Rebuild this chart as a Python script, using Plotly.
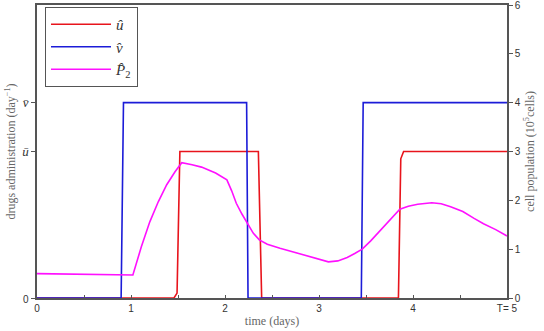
import plotly.graph_objects as go

# ---- data ----
u_t = [0, 1.457, 1.49, 1.52, 2.355, 2.39, 3.845, 3.87, 3.90, 5]
u_val = [0, 0, 0.10, 3, 3, 0, 0, 2.85, 3, 3]

v_t = [0, 0.895, 0.92, 2.23, 2.245, 3.45, 3.47, 5]
v_val = [0, 0, 4, 4, 0, 0, 4, 4]

p_t = [0, 0.5, 1.02, 1.11, 1.20, 1.29, 1.38, 1.47, 1.54, 1.65, 1.75, 1.9, 2.02,
       2.07, 2.12, 2.18, 2.24, 2.30, 2.365, 2.45, 2.585, 2.7, 2.8, 2.95, 3.1,
       3.2, 3.3, 3.38, 3.46, 3.55, 3.65, 3.76, 3.86, 3.95, 4.05, 4.2, 4.3, 4.4,
       4.53, 4.65, 4.75, 4.88, 5.0]
p_val = [0.50, 0.49, 0.47, 1.05, 1.56, 1.97, 2.32, 2.59, 2.77, 2.73, 2.68, 2.56, 2.42,
         2.20, 1.94, 1.72, 1.53, 1.33, 1.19, 1.10, 1.02, 0.96, 0.90, 0.82, 0.74,
         0.76, 0.83, 0.91, 1.00, 1.17, 1.38, 1.60, 1.82, 1.88, 1.92, 1.95, 1.93, 1.87,
         1.77, 1.63, 1.52, 1.40, 1.27]

x_tickvals = [0, 1, 2, 3, 4, 5]
x_ticktext = ["0", "1", "2", "3", "4", "T= 5"]
left_tickvals = [0, 3, 4]
left_ticktext = ['<span style="font-family:Liberation Sans;font-size:10px">0</span>',
                 "<i>ū</i>", "<i>v̄</i>"]
right_tickvals = [0, 1, 2, 3, 4, 5, 6]

AX = "#555555"
TXT = "#333333"
TITLE = "#666666"

fig = go.Figure()
fig.add_trace(go.Scatter(x=u_t, y=u_val, mode="lines", name="<i>û</i>",
                         line=dict(color="#e8141c", width=1.6)))
fig.add_trace(go.Scatter(x=v_t, y=v_val, mode="lines", name="<i>v̂</i>",
                         line=dict(color="#1c1cd8", width=1.6)))
fig.add_trace(go.Scatter(x=p_t, y=p_val, mode="lines", name="<i>P̂</i><sub>2</sub>",
                         line=dict(color="#ff10ff", width=1.6), yaxis="y2"))

fig.update_layout(
    width=544, height=331,
    margin=dict(l=37, r=37, t=5, b=33, autoexpand=False),
    plot_bgcolor="white", paper_bgcolor="white",
    font=dict(family="Liberation Sans", size=10, color=TXT),
    xaxis=dict(range=[0, 5], tickvals=x_tickvals, ticktext=x_ticktext,
               ticks="inside", ticklen=3, tickcolor=AX,
               minor=dict(dtick=0.5, tick0=0, ticks="inside", ticklen=3, tickcolor=AX),
               showline=True, linecolor=AX, linewidth=1.5, mirror=True,
               showgrid=False, zeroline=False, automargin=False,
               title=dict(text="time (days)", standoff=4,
                          font=dict(family="Liberation Serif", size=12, color=TITLE))),
    yaxis=dict(range=[0, 6], tickvals=left_tickvals, ticktext=left_ticktext,
               ticks="outside", ticklen=4, tickcolor=AX,
               tickfont=dict(family="Liberation Serif", size=13, color=TXT),
               showline=True, linecolor=AX, linewidth=1.5,
               showgrid=False, zeroline=False, automargin=False,
               title=dict(text="drugs administration (day<sup>−1</sup>)", standoff=4,
                          font=dict(family="Liberation Serif", size=12, color=TITLE))),
    yaxis2=dict(range=[0, 6], tickvals=right_tickvals, overlaying="y", side="right",
                ticks="outside", ticklen=4, tickcolor=AX, ticklabeloverflow="allow",
                showline=True, linecolor=AX, linewidth=1.5,
                showgrid=False, zeroline=False, automargin=False,
                title=dict(text="cell population (10<sup>5</sup>cells)", standoff=6,
                           font=dict(family="Liberation Serif", size=12, color=TITLE))),
    legend=dict(x=0.017, y=0.993, xanchor="left", yanchor="top",
                bordercolor=AX, borderwidth=1, bgcolor="white",
                font=dict(family="Liberation Serif", size=15, color=TXT),
                itemwidth=60, tracegroupgap=0),
    showlegend=True,
)

fig.write_html("out.html")
